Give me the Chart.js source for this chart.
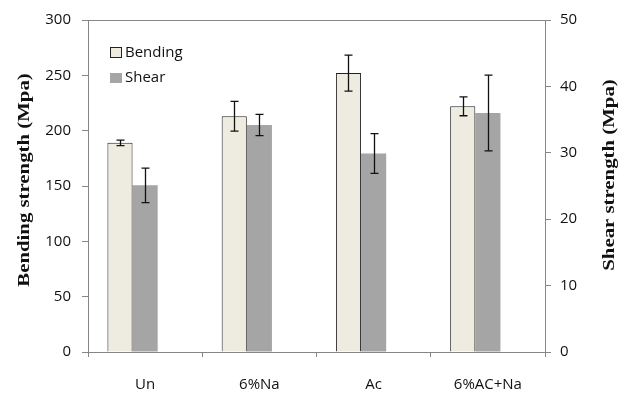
<!DOCTYPE html>
<html>
<head>
<meta charset="utf-8">
<script src="https://cdn.jsdelivr.net/npm/chart.js@4.4.0/dist/chart.umd.min.js"></script>
<style>
  body { margin: 0; background: #fff; }
</style>
</head>
<body>
<canvas id="canvas" width="623" height="395"></canvas>
<script>
var categories = ['Un', '6%Na', 'Ac', '6%AC+Na'];
var bending = [189, 213, 252, 222];
var bending_err = [2.5, 13.5, 16.3, 8.5];
var shear = [25.1, 34.2, 29.9, 36.0];
var shear_err = [2.6, 1.6, 3.0, 5.7];
var left_ticks = [0, 50, 100, 150, 200, 250, 300];
var right_ticks = [0, 10, 20, 30, 40, 50];

var axisGray = '#868686';
var tickFont = { family: 'Open Sans', size: 15 };

function drawTitle(ctx, text, x, y) {
    ctx.save();
    ctx.translate(x, y);
    ctx.rotate(-Math.PI / 2);
    ctx.scale(1.3, 1);   // original title is stretched along its length
    ctx.textAlign = 'center';
    ctx.textBaseline = 'middle';
    ctx.fillStyle = '#111';
    ctx.font = 'bold 16px "Liberation Serif"';
    ctx.fillText(text, 0, 0);
    ctx.restore();
}

// error bars, top frame line, legend and axis titles
var extras = {
    id: 'extras',
    afterDatasetsDraw: function(chart) {
        const ctx = chart.ctx;
        const area = chart.chartArea;
        ctx.save();
        ctx.strokeStyle = axisGray;
        ctx.lineWidth = 1;
        ctx.beginPath();
        ctx.moveTo(area.left, area.top + 0.5);
        ctx.lineTo(area.right, area.top + 0.5);
        ctx.stroke();

        chart.data.datasets.forEach(function(ds, di) {
            if (!ds.err) return;
            const meta = chart.getDatasetMeta(di);
            const scale = chart.scales[ds.yAxisID];
            meta.data.forEach(function(bar, i) {
                const x = Math.round(bar.x) + 0.5;
                const yTop = scale.getPixelForValue(ds.data[i] + ds.err[i]);
                const yBot = scale.getPixelForValue(ds.data[i] - ds.err[i]);
                ctx.strokeStyle = '#111';
                ctx.lineWidth = 1.3;
                ctx.beginPath();
                ctx.moveTo(x, yTop);
                ctx.lineTo(x, yBot);
                ctx.moveTo(x - 4, yTop);
                ctx.lineTo(x + 4, yTop);
                ctx.moveTo(x - 4, yBot);
                ctx.lineTo(x + 4, yBot);
                ctx.stroke();
            });
        });

        // legend
        ctx.font = '15px "Open Sans"';
        ctx.textBaseline = 'middle';
        ctx.fillStyle = '#EEECE1';
        ctx.fillRect(110.5, 47.5, 11, 10);
        ctx.strokeStyle = '#222';
        ctx.lineWidth = 1;
        ctx.strokeRect(110.5, 47.5, 11, 10);
        ctx.fillStyle = '#A5A5A5';
        ctx.fillRect(110, 73, 12, 10);
        ctx.fillStyle = '#111';
        ctx.fillText('Bending', 125, 53);
        ctx.fillText('Shear', 125, 78);
        ctx.restore();

        drawTitle(ctx, 'Bending strength (Mpa)', 25, 180);
        drawTitle(ctx, 'Shear strength (Mpa)', 610, 175);
    }
};

const ctx = document.getElementById('canvas');
const myChart = new Chart(ctx, {
    type: 'bar',
    data: {
        labels: categories,
        datasets: [{
            label: 'Bending',
            data: bending,
            err: bending_err,
            yAxisID: 'y',
            backgroundColor: '#EEECE1',
            borderColor: '#222',
            borderWidth: 1,
            categoryPercentage: 0.66,
            barPercentage: 1
        }, {
            label: 'Shear',
            data: shear,
            err: shear_err,
            yAxisID: 'y1',
            backgroundColor: '#A5A5A5',
            borderWidth: 0,
            categoryPercentage: 0.66,
            barPercentage: 1
        }, {
            // empty third slot, as in the original spreadsheet chart
            label: '',
            data: [],
            yAxisID: 'y',
            categoryPercentage: 0.66,
            barPercentage: 1
        }]
    },
    options: {
        responsive: false,
        animation: false,
        layout: { padding: { top: 15 } },
        plugins: {
            legend: { display: false },
            tooltip: { enabled: false }
        },
        scales: {
            x: {
                grid: { drawOnChartArea: false, color: axisGray, tickLength: 5 },
                border: { color: axisGray },
                ticks: { font: tickFont, color: '#111', padding: 19 },
                afterFit: function(s) { s.height = 43; }
            },
            y: {
                position: 'left',
                min: 0,
                max: 300,
                afterBuildTicks: function(s) { s.ticks = left_ticks.map(function(v) { return { value: v }; }); },
                grid: { drawOnChartArea: false, color: axisGray, tickLength: 6 },
                border: { color: axisGray },
                ticks: { font: tickFont, color: '#111', padding: 11 },
                afterFit: function(s) { s.width = 88; }
            },
            y1: {
                position: 'right',
                min: 0,
                max: 50,
                afterBuildTicks: function(s) { s.ticks = right_ticks.map(function(v) { return { value: v }; }); },
                grid: { drawOnChartArea: false, color: axisGray, tickLength: 6 },
                border: { color: axisGray },
                ticks: { font: tickFont, color: '#111', padding: 9 },
                afterFit: function(s) { s.width = 78; }
            }
        }
    },
    plugins: [extras]
});
</script>
</body>
</html>
